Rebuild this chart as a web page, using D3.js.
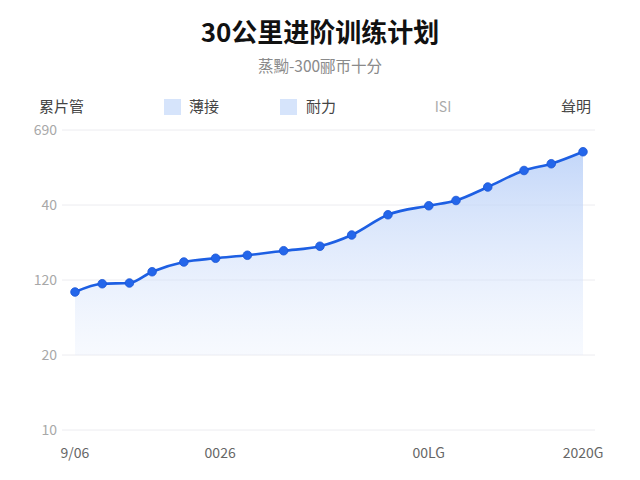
<!DOCTYPE html>
<html>
<head>
<meta charset="utf-8">
<script src="https://cdn.jsdelivr.net/npm/d3@7"></script>
<style>
  body { margin: 0; background: #fff; }
  svg { font-family: "Noto Sans CJK SC", "Noto Sans", sans-serif; }
</style>
</head>
<body>
<svg id="chart" width="640" height="480"></svg>
<script>
// data
const days = [0, 6, 12, 17, 24, 31, 38, 46, 54, 61, 69, 78, 84, 91, 99, 105, 112];
const levels = [1.84, 1.95, 1.96, 2.11, 2.24, 2.29, 2.33, 2.39, 2.45, 2.6, 2.87, 2.99, 3.06, 3.24, 3.46, 3.55, 3.71];
const yTickLabels = ['10', '20', '120', '40', '690'];
const xTickDays = [0, 32, 78, 112];
const xTickLabels = ['9/06', '0026', '00LG', '2020G'];
const legendItems = ['累片管', '薄接', '耐力', 'ISI', '耸明'];

const data = days.map((d, i) => ({ day: d, level: levels[i] }));

const svg = d3.select('#chart');

const xScale = d3.scaleLinear().domain([0, 112]).range([75, 583]);
const yScale = d3.scaleLinear().domain([0, 4]).range([430, 130]);

// title
svg.append('text')
    .attr('x', 320)
    .attr('y', 42)
    .attr('text-anchor', 'middle')
    .attr('font-size', 26)
    .attr('font-weight', 'bold')
    .attr('fill', '#111')
    .text('30公里进阶训练计划');

svg.append('text')
    .attr('x', 320)
    .attr('y', 72)
    .attr('text-anchor', 'middle')
    .attr('font-size', 15.5)
    .attr('fill', '#8a8a8a')
    .text('蒸黝-300郦帀十分');

// legend row
const legend = svg.append('g').attr('transform', 'translate(0, 107)');
legend.append('text').attr('x', 39).attr('y', 5).attr('font-size', 15).attr('fill', '#444').text(legendItems[0]);
legend.append('rect').attr('x', 164).attr('y', -8).attr('width', 17).attr('height', 16).attr('fill', '#d6e4fb');
legend.append('text').attr('x', 189).attr('y', 5).attr('font-size', 15).attr('fill', '#444').text(legendItems[1]);
legend.append('rect').attr('x', 280).attr('y', -8).attr('width', 17).attr('height', 16).attr('fill', '#d6e4fb');
legend.append('text').attr('x', 306).attr('y', 5).attr('font-size', 15).attr('fill', '#444').text(legendItems[2]);
legend.append('text').attr('x', 443).attr('y', 5).attr('text-anchor', 'middle').attr('font-size', 14).attr('fill', '#aaa').text(legendItems[3]);
legend.append('text').attr('x', 591).attr('y', 5).attr('text-anchor', 'end').attr('font-size', 15).attr('fill', '#444').text(legendItems[4]);

// grid + y labels
const yAxis = svg.append('g').attr('class', 'y-axis');
yAxis.selectAll('line')
    .data(d3.range(yTickLabels.length))
    .enter()
    .append('line')
    .attr('x1', 62)
    .attr('x2', 595)
    .attr('y1', (d) => yScale(d))
    .attr('y2', (d) => yScale(d))
    .attr('style', 'stroke: #ececf0; stroke-width: 1px;');
yAxis.selectAll('text')
    .data(d3.range(yTickLabels.length))
    .enter()
    .append('text')
    .attr('x', 57)
    .attr('y', (d) => yScale(d) + 5)
    .attr('text-anchor', 'end')
    .attr('font-size', 14)
    .attr('fill', '#a8a8a8')
    .text((d) => yTickLabels[d]);

// gradient for the area
const defs = svg.append('defs');
const grad = defs.append('linearGradient')
    .attr('id', 'areaGrad')
    .attr('gradientUnits', 'userSpaceOnUse')
    .attr('x1', 0).attr('x2', 0)
    .attr('y1', yScale(3.7)).attr('y2', yScale(1));
grad.append('stop').attr('offset', '0%').attr('stop-color', '#b9d0f8').attr('stop-opacity', 0.85);
grad.append('stop').attr('offset', '100%').attr('stop-color', '#dfe9fc').attr('stop-opacity', 0.25);

const area = d3.area()
    .x((d) => xScale(d.day))
    .y0(yScale(1))
    .y1((d) => yScale(d.level))
    .curve(d3.curveMonotoneX);

const line = d3.line()
    .x((d) => xScale(d.day))
    .y((d) => yScale(d.level))
    .curve(d3.curveMonotoneX);

svg.append('path')
    .datum(data)
    .attr('d', area)
    .attr('fill', 'url(#areaGrad)');

svg.append('path')
    .datum(data)
    .attr('d', line)
    .attr('fill', 'none')
    .attr('stroke', '#1d5fe3')
    .attr('stroke-width', 2.6);

svg.selectAll('.pt')
    .data(data)
    .enter()
    .append('circle')
    .attr('class', 'pt')
    .attr('cx', (d) => xScale(d.day))
    .attr('cy', (d) => yScale(d.level))
    .attr('r', 4.3)
    .attr('fill', '#2466ea')
    .attr('stroke', '#1a56d6')
    .attr('stroke-width', 0.8);

// x labels
svg.append('g')
    .selectAll('text')
    .data(xTickDays)
    .enter()
    .append('text')
    .attr('x', (d) => xScale(d))
    .attr('y', 458)
    .attr('text-anchor', 'middle')
    .attr('font-size', 14)
    .attr('fill', '#666')
    .text((d, i) => xTickLabels[i]);
</script>
</body>
</html>
